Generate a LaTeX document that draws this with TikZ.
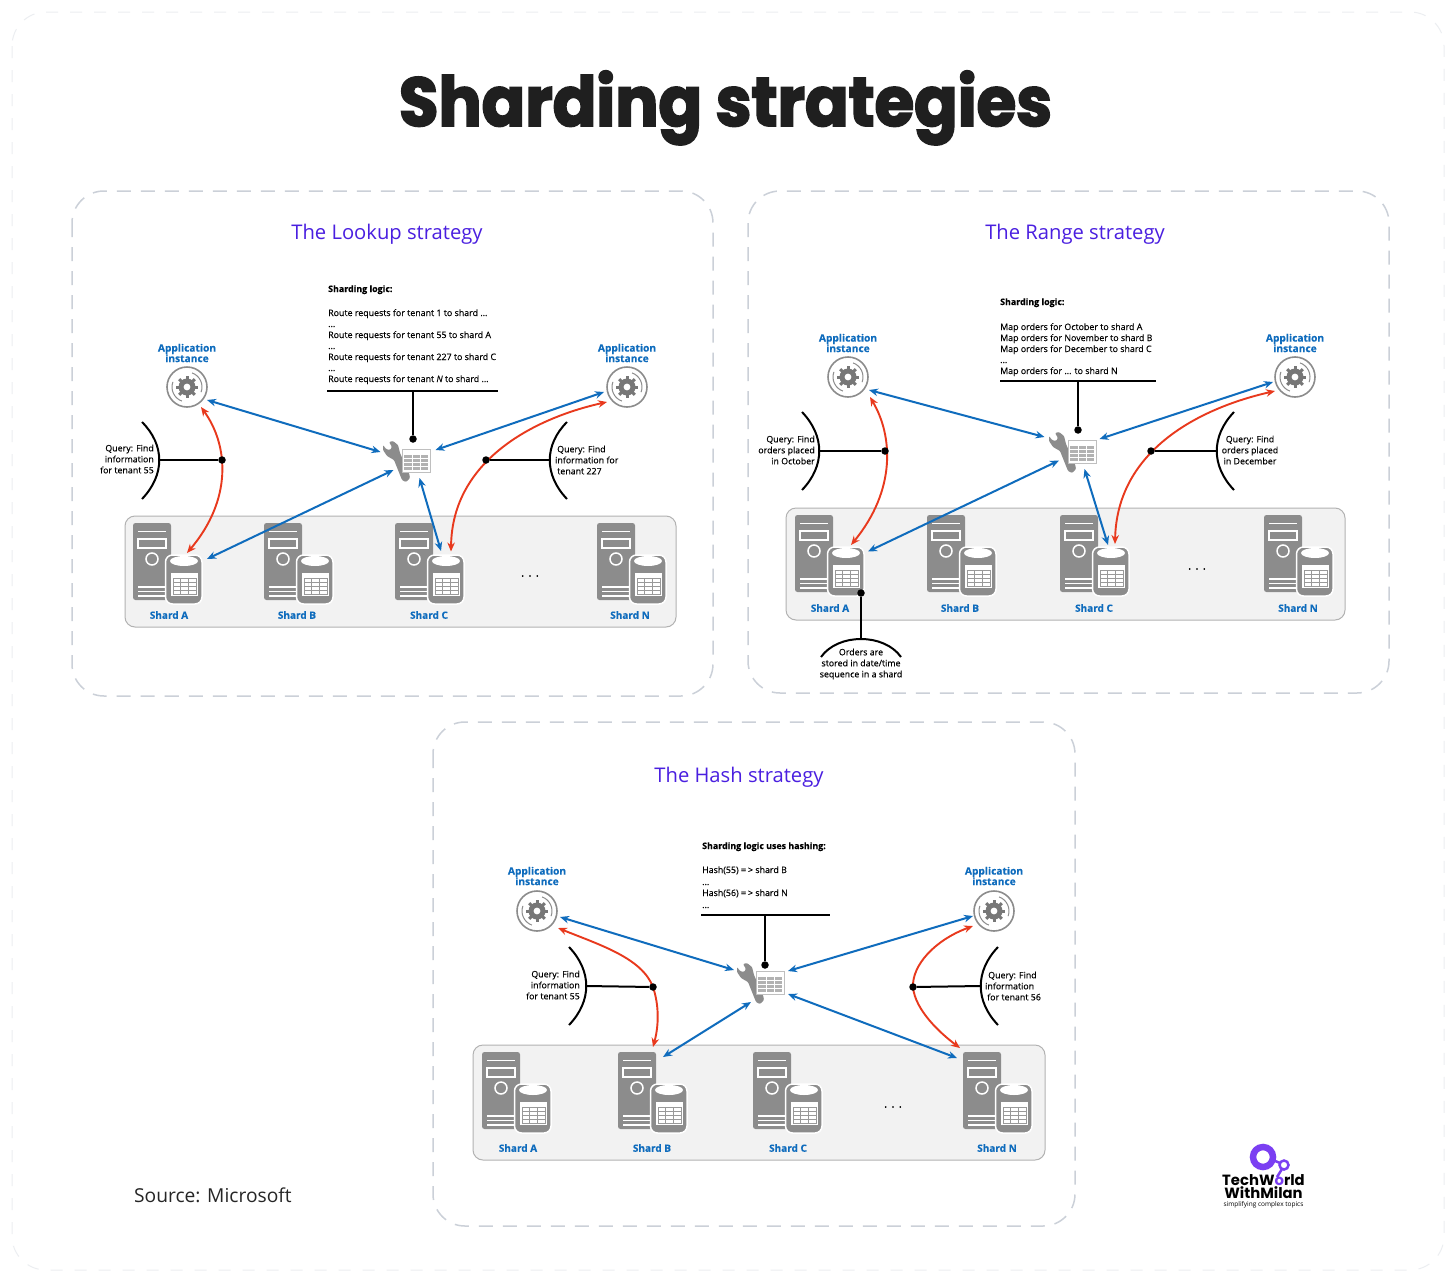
\documentclass[tikz,border=0pt]{standalone}
\usepackage{fontspec}
\usetikzlibrary{arrows.meta}
\setmainfont[FakeBold=0.2]{Open Sans}
\newfontfamily\titlefont[UprightFont=* Bold,FakeBold=2.6,FakeStretch=0.93]{Poppins}
\newfontfamily\logofont[UprightFont=* Bold]{Poppins}
\newfontfamily\headfont{Open Sans}
\definecolor{msblue}{HTML}{0F6CBD}
\definecolor{msred}{HTML}{E8391D}
\definecolor{msgray}{HTML}{8C8C8C}
\definecolor{headviolet}{HTML}{4A1FE0}
\definecolor{panelline}{HTML}{CBD0D8}
\definecolor{pageline}{HTML}{ECEEF1}
\definecolor{logoviolet}{HTML}{7B3FF2}
\pgfdeclarelayer{front}
\pgfsetlayers{main,front}
\tikzset{
  pagebox/.style={draw=pageline,line width=1pt,dash pattern=on 12pt off 12pt,rounded corners=34pt},
  panelbox/.style={draw=panelline,line width=1.5pt,dash pattern=on 14pt off 10pt,rounded corners=32pt},
  shardbox/.style={draw=black!30,fill=black!5,line width=1pt,rounded corners=10pt},
  head/.style={font=\headfont\fontsize{20.2}{24}\selectfont,text=headviolet,inner sep=0pt},
  small/.style={font=\fontsize{8.85}{11}\selectfont,text=black,inner sep=0pt},
  logictext/.style={small,anchor=base west},
  shardlabel/.style={font=\fontsize{10}{11}\selectfont\bfseries,text=msblue,inner sep=0pt},
  applabel/.style={font=\fontsize{10.2}{10.5}\selectfont\bfseries,text=msblue,inner sep=0pt,align=center},
  both/.style={msblue,line width=2pt,{Stealth[length=9pt,width=7.5pt]}-{Stealth[length=9pt,width=7.5pt]}},
  redtwo/.style={msred,line width=1.9pt,{Stealth[length=9pt,width=7.5pt]}-{Stealth[length=9pt,width=7.5pt]}},
  rule/.style={black,line width=2pt},
  stem/.style={black,line width=2pt},
  blackdot/.style={circle,fill=black,inner sep=0pt,minimum size=7.5pt},
}
\newcommand{\dotnode}[3]{\begin{pgfonlayer}{front}\node[blackdot] (#1) at (#2,#3) {};\end{pgfonlayer}}
% application icon
\newcommand{\appicon}[3]{%
  \node[circle,inner sep=0pt,minimum size=40pt,draw=msgray,line width=1.6pt,fill=white] (#1) at (#2,#3) {};
  \begin{scope}[shift={(#2,#3)}]
    \draw[msgray,line width=1pt] (110:15) arc[start angle=110,end angle=200,radius=15];
    \draw[msgray,line width=1pt] (290:15) arc[start angle=290,end angle=380,radius=15];
    \foreach \a in {0,45,...,315} \draw[msgray!85!black,line width=3pt] (\a:5) -- (\a:11);
    \fill[msgray!85!black] (0,0) circle[radius=8.5];
    \fill[white] (0,0) circle[radius=3.4];
  \end{scope}}
% logic icon: wrench + table
\newcommand{\logicicon}[3]{%
  \node[inner sep=0pt,minimum width=47pt,minimum height=42pt] (#1) at (#2+23.5,#3+21) {};
  \begin{scope}[shift={(#2,#3)}]
    \fill[msgray,rounded corners=1pt] (0,5)--(3,9)--(7,10)--(9,7)--(6,2)--(10,1)--(15,5)--(17,13)--(26,33)--(27,38)--(23,42)--(19,40)--(11,20)--(4,16)--(0,10)--cycle;
    \draw[black!25,fill=white,line width=.8pt] (19,9) rectangle (47,32);
    \fill[black!30] (21,15) rectangle (45,30);
    \foreach \u in {29,37} \draw[white,line width=.8pt] (\u,15)--(\u,30);
    \foreach \v in {18.5,22.5,26.5} \draw[white,line width=.8pt] (21,\v)--(45,\v);
  \end{scope}}
% server with database
\newcommand{\shardicon}[6]{%
  \node[inner sep=0pt,minimum width=36pt,minimum height=49pt] (#1) at (#2+51,#3+55.5) {};
  \begin{scope}[shift={(#2,#3)}]
    \fill[msgray,rounded corners=2.5pt] (0,0) rectangle (38,77);
    \draw[white,line width=1pt] (5,8)--(33,8);
    \draw[white,line width=1.2pt] (5,16) rectangle (33,25);
    \draw[white,line width=1.5pt] (19,36) circle[radius=6];
    \foreach \v in {64,68.5,73} \draw[white,line width=1.1pt] (5,\v)--(33,\v);
    \draw[white,fill=msgray,line width=1.5pt,rounded corners=7pt] (32.5,32) rectangle (69,81);
    \fill[white] (51,38) ellipse[x radius=14,y radius=5];
    \fill[white] (37.5,50) rectangle (65,73);
    \draw[black!40,line width=.6pt] (40,55) rectangle (63,71);
    \foreach \u in {47.7,55.3} \draw[black!40,line width=.6pt] (\u,55)--(\u,71);
    \foreach \v in {59,63,67} \draw[black!40,line width=.6pt] (40,\v)--(63,\v);
  \end{scope}
  \node[shardlabel] (#1l) at (#4,#5) {#6};}
\newcommand{\off}[3]{([shift={(#2,#3)}]#1.center)}
\begin{document}
\begin{tikzpicture}[x=1pt,y=-1pt]
\useasboundingbox (0,0) rectangle (1456,1282);
\fill[white] (0,0) rectangle (1456,1282);
\draw[pagebox] (12,12) rectangle (1444,1270);
\node[font=\titlefont\fontsize{69}{72}\selectfont,text=black!88,anchor=base,inner sep=0pt] (title) at (725.5,126) {Sharding strategies};

%%% panels
\draw[panelbox] (72,191) rectangle (713,696);
\draw[panelbox] (748,191) rectangle (1389,693);
\draw[panelbox] (433,722) rectangle (1075,1226);
\node[head] (hL) at (387,234) {The Lookup strategy};
\node[head] (hR) at (1075,234) {The Range strategy};
\node[head] (hH) at (739,777) {The Hash strategy};

%%% LOOKUP
\draw[shardbox] (125,516) rectangle (676,627);
\shardicon{La}{133}{523}{169}{615}{Shard A}
\shardicon{Lb}{264}{523}{297}{615}{Shard B}
\shardicon{Lc}{395}{523}{429}{615}{Shard C}
\shardicon{Ln}{597}{523}{630}{615}{Shard N}
\node[small,font=\fontsize{12}{12}\selectfont] (Ldots) at (530,576) {. . .};
\appicon{La1}{187}{387}
\appicon{La2}{627}{387}
\node[applabel] (La1t) at (187,353) {Application\\instance};
\node[applabel] (La2t) at (627,353) {Application\\instance};
\logicicon{Llog}{383}{440}
\node[logictext,font=\fontsize{8.85}{11}\selectfont\bfseries] (Lt0) at (328,292) {Sharding logic:};
\node[logictext] (Lt1) at (328,316) {Route requests for tenant 1 to shard ...};
\node[logictext] (Lt2) at (328,327) {...};
\node[logictext] (Lt3) at (328,338) {Route requests for tenant 55 to shard A};
\node[logictext] (Lt4) at (328,349) {...};
\node[logictext] (Lt5) at (328,360) {Route requests for tenant 227 to shard C};
\node[logictext] (Lt6) at (328,371) {...};
\node[logictext] (Lt7) at (328,382) {Route requests for tenant \textit{N} to shard ...};
\coordinate (Lr1) at (327,391); \coordinate (Lr2) at (498,391); \coordinate (Lrm) at (413,391);
\dotnode{Ld0}{413}{439}
\draw[rule] (Lr1) -- (Lr2);
\draw[stem] (Lrm) -- (Ld0);
\draw[both] \off{La1}{20}{13} -- \off{Llog}{-26}{-9};
\draw[both] \off{La}{23}{-19.5} -- \off{Llog}{-13}{9};
\draw[both] \off{La2}{-23}{5} -- \off{Llog}{29}{-11};
\draw[both] \off{Llog}{13}{17} -- \off{Lc}{-5}{-27.5};
% query arcs
\coordinate (Lq1a) at (142,422); \coordinate (Lq1m) at (159,460); \coordinate (Lq1b) at (142,499);
\dotnode{Lq1}{222}{460}
\draw[redtwo] \off{La1}{14}{20} .. controls (229,446) and (232,500) .. \off{La}{3}{-25.5};
\draw[black,line width=2pt] (Lq1a) .. controls (165,445) and (165,475) .. (Lq1b);
\draw[stem] (Lq1m) -- (Lq1);
\node[small,align=right,anchor=east] (Lq1t) at (154,459) {Query: Find\\information\\for tenant 55};
\coordinate (Lq2a) at (567,422); \coordinate (Lq2m) at (550,460); \coordinate (Lq2b) at (567,499);
\dotnode{Lq2}{486}{460}
\draw[redtwo] \off{La2}{-20}{15} .. controls (535,418) and (452,460) .. \off{Lc}{5}{-27};
\draw[black,line width=2pt] (Lq2a) .. controls (544,445) and (544,475) .. (Lq2b);
\draw[stem] (Lq2m) -- (Lq2);
\node[small,align=left,anchor=west] (Lq2t) at (555,460) {\hspace{2pt}Query: Find\\information for\\\hspace{2pt}tenant 227};

%%% RANGE
\draw[shardbox] (786,508) rectangle (1345,620);
\shardicon{Ra}{795}{515}{830}{608}{Shard A}
\shardicon{Rb}{927}{515}{960}{608}{Shard B}
\shardicon{Rc}{1060}{515}{1094}{608}{Shard C}
\shardicon{Rn}{1264}{515}{1298}{608}{Shard N}
\node[small,font=\fontsize{12}{12}\selectfont] (Rdots) at (1197,569) {. . .};
\appicon{Ra1}{848}{377}
\appicon{Ra2}{1295}{377}
\node[applabel] (Ra1t) at (848,343) {Application\\instance};
\node[applabel] (Ra2t) at (1295,343) {Application\\instance};
\logicicon{Rlog}{1049}{431}
\node[logictext,font=\fontsize{8.85}{11}\selectfont\bfseries] (Rt0) at (1000,305) {Sharding logic:};
\node[logictext] (Rt1) at (1000,330) {Map orders for October to shard A};
\node[logictext] (Rt2) at (1000,341) {Map orders for November to shard B};
\node[logictext] (Rt3) at (1000,352) {Map orders for December to shard C};
\node[logictext] (Rt4) at (1000,363) {...};
\node[logictext] (Rt5) at (1000,374) {Map orders for ... to shard N};
\coordinate (Rr1) at (1000,381); \coordinate (Rr2) at (1156,381); \coordinate (Rrm) at (1078,381);
\dotnode{Rd0}{1078}{430}
\draw[rule] (Rr1) -- (Rr2);
\draw[stem] (Rrm) -- (Rd0);
\draw[both] \off{Ra1}{21}{13} -- \off{Rlog}{-28}{-15};
\draw[both] \off{Ra}{22}{-19} -- \off{Rlog}{-13.5}{8.5};
\draw[both] \off{Ra2}{-22}{5} -- \off{Rlog}{27}{-13};
\draw[both] \off{Rlog}{12}{17} -- \off{Rc}{-3}{-25.5};
\coordinate (Rq1a) at (802,412); \coordinate (Rq1m) at (819,451); \coordinate (Rq1b) at (802,490);
\dotnode{Rq1}{885}{451}
\draw[redtwo] \off{Ra1}{22}{20} .. controls (893,436) and (896,490) .. \off{Ra}{5}{-25.5};
\draw[black,line width=2pt] (Rq1a) .. controls (825,436) and (825,466) .. (Rq1b);
\draw[stem] (Rq1m) -- (Rq1);
\node[small,align=right,anchor=east] (Rq1t) at (815,450) {Query: Find\\orders placed\\in October};
\coordinate (Rq2a) at (1234,412); \coordinate (Rq2m) at (1217,451); \coordinate (Rq2b) at (1234,490);
\dotnode{Rq2}{1151}{451}
\draw[redtwo] \off{Ra2}{-20}{14} .. controls (1200,408) and (1117,450) .. \off{Rc}{4}{-26.5};
\draw[black,line width=2pt] (Rq2a) .. controls (1211,436) and (1211,466) .. (Rq2b);
\draw[stem] (Rq2m) -- (Rq2);
\node[small,align=center,anchor=center] (Rq2t) at (1250,450) {Query: Find\\orders placed\\in December};
\dotnode{Rq3}{861}{593}
\coordinate (Rq3a) at (821,657); \coordinate (Rq3m) at (861,639); \coordinate (Rq3b) at (901,657);
\draw[stem] (Rq3) -- (Rq3m);
\draw[black,line width=2pt] (Rq3a) .. controls (838,633) and (884,633) .. (Rq3b);
\node[small,align=center] (Rq3t) at (861,664) {Orders are\\stored in date/time\\sequence in a shard};

%%% HASH
\draw[shardbox] (473,1045) rectangle (1045,1160);
\shardicon{Ha}{482}{1052}{518}{1148}{Shard A}
\shardicon{Hb}{618}{1052}{652}{1148}{Shard B}
\shardicon{Hc}{753}{1052}{788}{1148}{Shard C}
\shardicon{Hn}{963}{1052}{997}{1148}{Shard N}
\node[small,font=\fontsize{12}{12}\selectfont] (Hdots) at (893,1107) {. . .};
\appicon{Ha1}{537}{911}
\appicon{Ha2}{994}{911}
\node[applabel] (Ha1t) at (537,876) {Application\\instance};
\node[applabel] (Ha2t) at (994,876) {Application\\instance};
\logicicon{Hlog}{737}{962}
\node[logictext,font=\fontsize{8.85}{11}\selectfont\bfseries] (Ht0) at (702,849) {Sharding logic uses hashing:};
\node[logictext] (Ht1) at (702,873) {Hash(55) =\hspace{2pt}> shard B};
\node[logictext] (Ht2) at (702,885) {...};
\node[logictext] (Ht3) at (702,896) {Hash(56) =\hspace{2pt}> shard N};
\node[logictext] (Ht4) at (702,908) {...};
\coordinate (Hr1) at (701,915); \coordinate (Hr2) at (830,915); \coordinate (Hrm) at (765,915);
\dotnode{Hd0}{765}{965}
\draw[rule] (Hr1) -- (Hr2);
\draw[stem] (Hrm) -- (Hd0);
\draw[both] \off{Ha1}{23}{6} -- \off{Hlog}{-26.5}{-13};
\draw[both] \off{Ha2}{-21}{5} -- \off{Hlog}{27.5}{-12};
\draw[both] \off{Hlog}{-9.5}{19} -- \off{Hb}{-6}{-50.5};
\draw[both] \off{Hlog}{27.5}{11} -- \off{Hn}{-57}{-49.5};
\coordinate (Hq1a) at (569,947); \coordinate (Hq1m) at (586,986); \coordinate (Hq1b) at (569,1025);
\dotnode{Hq1}{653}{987}
\draw[redtwo] \off{Ha1}{21}{17} .. controls (600,945) and (642,958) .. (Hq1.center) .. controls (659,1005) and (659,1025) .. \off{Hb}{-16}{-60.5};
\draw[black,line width=2pt] (Hq1a) .. controls (592,971) and (592,1001) .. (Hq1b);
\draw[stem] (Hq1m) -- (Hq1);
\node[small,align=right,anchor=east] (Hq1t) at (580,985) {Query: Find\\information\\for tenant 55};
\coordinate (Hq2a) at (998,947); \coordinate (Hq2m) at (981,986); \coordinate (Hq2b) at (998,1025);
\dotnode{Hq2}{913}{987}
\draw[redtwo] \off{Ha2}{-21}{15} .. controls (935,940) and (912,965) .. (Hq2.center) .. controls (915,1010) and (940,1033) .. \off{Hn}{-54}{-59.5};
\draw[black,line width=2pt] (Hq2a) .. controls (975,971) and (975,1001) .. (Hq2b);
\draw[stem] (Hq2m) -- (Hq2);
\node[small,align=left,anchor=west] (Hq2t) at (985,986) {\hspace{3pt}Query: Find\\information\\\hspace{2pt}for tenant 56};

%%% footer
\node[font=\headfont\fontsize{19.2}{22}\selectfont,text=black!85,anchor=base west,inner sep=0pt] (src) at (134,1202) {Source: Microsoft};
% logo
\draw[logoviolet,line width=6.5pt] (1263,1157) circle[radius=10];
\draw[logoviolet,line width=2.5pt] (1284,1165) circle[radius=4.5];
\draw[logoviolet,line width=2.5pt] (1273,1160) -- (1280,1163);
\draw[logoviolet,line width=2.5pt] (1282,1169) -- (1277,1177);
\node[font=\logofont\fontsize{14.8}{15}\selectfont,anchor=base,inner sep=0pt] (lg1) at (1263.5,1185) {TechW{\color{logoviolet}o}rld};
\node[font=\logofont\fontsize{14.8}{15}\selectfont,anchor=base,inner sep=0pt] (lg2) at (1263.5,1198) {WithMilan};
\node[font=\headfont\fontsize{6.5}{7}\selectfont,anchor=base,inner sep=0pt] (lg3) at (1263.5,1206.5) {simplifying complex topics};
\end{tikzpicture}
\end{document}
